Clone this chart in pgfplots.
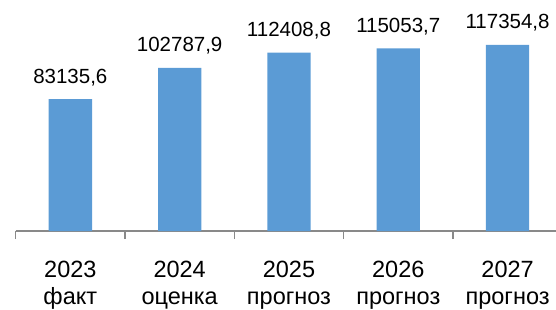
\documentclass[border=0pt]{standalone}
\usepackage{fontspec}
\setmainfont{Liberation Sans}
\usepackage{pgfplots}
\pgfplotsset{compat=1.18}
\definecolor{barblue}{HTML}{5B9BD5}
\definecolor{axgray}{HTML}{898989}
\begin{document}
\begin{tikzpicture}[x=1pt,y=1pt]
\useasboundingbox (0,0) rectangle (556,309);
\begin{axis}[
  at={(15.7pt,78pt)}, anchor=south west,
  scale only axis,
  width=540.3pt, height=222.1pt,
  xmin=-0.5, xmax=4.443,
  ymin=0, ymax=140000,
  enlarge x limits=false,
  axis x line*=bottom,
  axis y line=none,
  x axis line style={axgray, line width=1.5pt, -},
  xtick={0,1,2,3,4},
  xticklabels={2023\\факт,2024\\оценка,2025\\прогноз,2026\\прогноз,2027\\прогноз},
  major x tick style={draw=none},
  minor xtick={-0.5,0.5,1.5,2.5,3.5},
  minor x tick style={axgray, line width=1.5pt},
  minor tick length=8pt,
  tick align=outside,
  xticklabel style={font=\fontsize{23.5}{27.4}\selectfont, align=center, text=black, yshift=-22pt},
  /pgf/number format/assume math mode=true,
  ybar, bar width=43.3pt,
  nodes near coords={\pgfmathprintnumber[fixed,fixed zerofill,precision=1,use comma,1000 sep={}]{\pgfplotspointmeta}},
  nodes near coords style={anchor=base, yshift=16pt, font=\fontsize{20.5}{24}\selectfont, text=black},
  point meta=explicit,
  clip=false,
]
\addplot[fill=barblue, draw=none] coordinates {
  (0,83135.6) [83135.6]
  (1,102787.9) [102787.9]
  (2,112408.8) [112408.8]
  (3,115053.7) [115053.7]
  (4,117354.8) [117354.8]
};
\end{axis}
\end{tikzpicture}
\end{document}
